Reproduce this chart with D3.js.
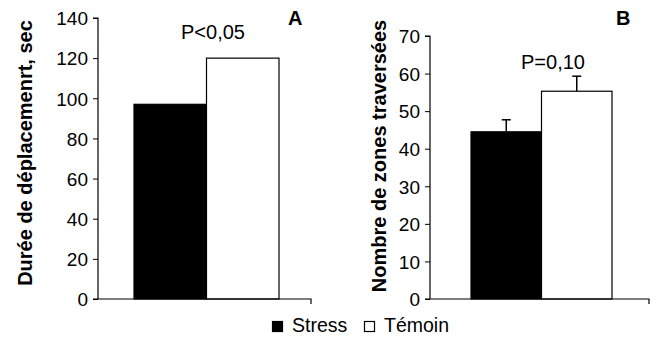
<!DOCTYPE html>
<meta charset="utf-8">
<style>
body { margin: 0; background: #fff; }
text { font-family: Arial, "Liberation Sans", Helvetica, sans-serif; fill: #000; }
.tick text { font-size: 19px; }
.ylabel { font-size: 20px; font-weight: bold; text-anchor: middle; }
.letter { font-size: 20px; font-weight: bold; }
.pval { font-size: 20px; text-anchor: middle; }
.legend text { font-size: 19.5px; }
</style>
<body>
<script src="https://d3js.org/d3.v7.min.js"></script>
<script>
var w = 656, h = 338;

// data
var groups = ["Stress", "Témoin"];
var dureeValues = [97, 120];
var zonesValues = [44.5, 55.3];
var zonesErrors = [3.2, 4.0];
var dureeTicks = [0, 20, 40, 60, 80, 100, 120, 140];
var zonesTicks = [0, 10, 20, 30, 40, 50, 60, 70];
var colors = ["#000", "#fff"];

var svg = d3.select("body").append("svg")
    .attr("width", w)
    .attr("height", h);

var panels = [
  {x0: 98, x1: 311, y0: 299, y1: 18, max: 140, ticks: dureeTicks, values: dureeValues, errors: null,
   bars: [134, 279], label: "Durée de déplacemenrt, sec", labelX: 25, labelY: 153,
   letter: "A", letterX: 288, pval: "P<0,05", pX: 213, pY: 39},
  {x0: 430, x1: 649, y0: 299, y1: 36, max: 70, ticks: zonesTicks, values: zonesValues, errors: zonesErrors,
   bars: [471, 612], label: "Nombre de zones traversées", labelX: 379, labelY: 156,
   letter: "B", letterX: 616, pval: "P=0,10", pX: 553, pY: 69}
];

panels.forEach(function(p) {
  var g = svg.append("g");
  var y = d3.scaleLinear().domain([0, p.max]).range([p.y0, p.y1]);
  var x = d3.scaleBand().domain(groups).range(p.bars).padding(0);

  g.selectAll("rect.bar")
    .data(p.values)
    .enter().append("rect")
    .attr("class", "bar")
    .attr("x", function(d, i) { return x(groups[i]); })
    .attr("width", x.bandwidth())
    .attr("y", function(d) { return y(d); })
    .attr("height", function(d) { return y(0) - y(d); })
    .attr("fill", function(d, i) { return colors[i]; })
    .attr("stroke", "#000")
    .attr("stroke-width", 1.2);

  if (p.errors) {
    var eb = g.selectAll("g.err")
      .data(p.values)
      .enter().append("g")
      .attr("class", "err");
    eb.append("line")
      .attr("x1", function(d, i) { return x(groups[i]) + x.bandwidth() / 2; })
      .attr("x2", function(d, i) { return x(groups[i]) + x.bandwidth() / 2; })
      .attr("y1", function(d) { return y(d); })
      .attr("y2", function(d, i) { return y(d + p.errors[i]); })
      .attr("stroke", "#000").attr("stroke-width", 1.5);
    eb.append("line")
      .attr("x1", function(d, i) { return x(groups[i]) + x.bandwidth() / 2 - 4.5; })
      .attr("x2", function(d, i) { return x(groups[i]) + x.bandwidth() / 2 + 4.5; })
      .attr("y1", function(d, i) { return y(d + p.errors[i]); })
      .attr("y2", function(d, i) { return y(d + p.errors[i]); })
      .attr("stroke", "#000").attr("stroke-width", 1.5);
  }

  var yAxis = g.append("g")
    .attr("transform", "translate(" + p.x0 + ",0)")
    .call(d3.axisLeft(y).tickValues(p.ticks).tickSize(5).tickPadding(5));
  yAxis.select(".domain").attr("stroke", "#000").attr("stroke-width", 1.2)
    .attr("d", "M-5," + p.y1 + "H0V" + p.y0);
  yAxis.selectAll(".tick line").attr("stroke", "#000");
  yAxis.selectAll(".tick text").attr("fill", "#000").attr("dy", "0.36em");

  // category axis line
  g.append("path")
    .attr("d", "M" + (p.x0 - 5) + "," + p.y0 + "H" + p.x1 + "V" + (p.y0 + 5))
    .attr("fill", "none")
    .attr("stroke", "#000")
    .attr("stroke-width", 1.2);

  g.append("text")
    .attr("class", "ylabel")
    .attr("transform", "translate(" + p.labelX + "," + p.labelY + ") rotate(-90)")
    .attr("dy", "0.35em")
    .text(p.label);

  g.append("text")
    .attr("class", "letter")
    .attr("x", p.letterX).attr("y", 25)
    .text(p.letter);

  g.append("text")
    .attr("class", "pval")
    .attr("x", p.pX).attr("y", p.pY)
    .text(p.pval);
});

// legend
var legend = svg.append("g").attr("class", "legend");
var legX = [272, 364];
groups.forEach(function(name, i) {
  legend.append("rect")
    .attr("x", legX[i] + 0.5).attr("y", 321.5)
    .attr("width", 10).attr("height", 10)
    .attr("fill", colors[i]).attr("stroke", "#000").attr("stroke-width", 1.2);
  legend.append("text")
    .attr("x", legX[i] + 20).attr("y", 332)
    .text(name);
});
</script>
</body>
